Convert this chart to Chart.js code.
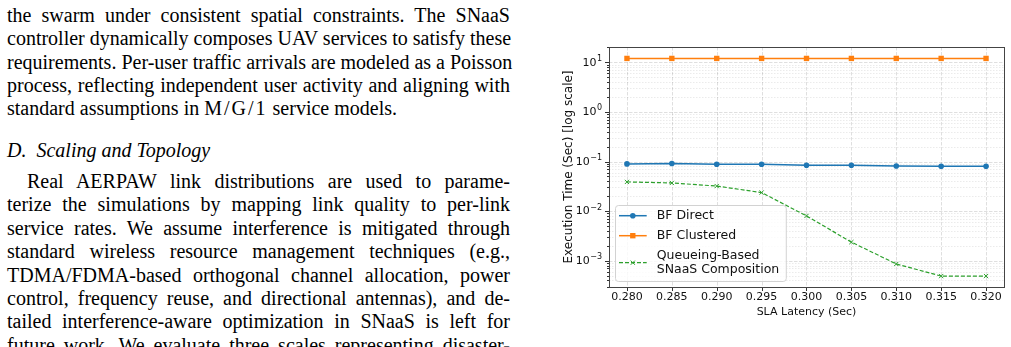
<!DOCTYPE html>
<html><head><meta charset="utf-8">
<script src="https://cdn.jsdelivr.net/npm/chart.js@4.4.1/dist/chart.umd.min.js"></script>
<style>
html,body{margin:0;padding:0;background:#fff;}
body{width:1011px;height:347px;position:relative;overflow:hidden;}
#text{position:absolute;left:7px;top:0;width:503px;height:347px;font-family:'Liberation Serif','Times New Roman',serif;font-size:20px;color:#000;}
.ln{position:absolute;left:0;width:503px;height:23.3px;line-height:23.3px;white-space:nowrap;text-align:justify;text-align-last:justify;}
.ln.last{text-align-last:left;}
.ln.ind{left:20px;width:483px;}
.it{font-style:italic;}
.m{letter-spacing:2px;}
#chartbox{position:absolute;left:530px;top:0;width:481px;height:347px;}
</style>
</head><body>
<div id="text">
  <div class="ln" style="top:4px">the swarm under consistent spatial constraints. The SNaaS</div>
  <div class="ln" style="top:27.3px">controller dynamically composes UAV services to satisfy these</div>
  <div class="ln" style="top:50.6px">requirements. Per-user traffic arrivals are modeled as a Poisson</div>
  <div class="ln" style="top:73.9px">process, reflecting independent user activity and aligning with</div>
  <div class="ln last" style="top:97.2px">standard assumptions in <span class="m">M/G/1</span> service models.</div>
  <div class="ln last it" style="top:139px">D.&nbsp; Scaling and Topology</div>
  <div class="ln ind" style="top:170px">Real AERPAW link distributions are used to parame-</div>
  <div class="ln" style="top:193.4px">terize the simulations by mapping link quality to per-link</div>
  <div class="ln" style="top:216.8px">service rates. We assume interference is mitigated through</div>
  <div class="ln" style="top:240.2px">standard wireless resource management techniques (e.g.,</div>
  <div class="ln" style="top:263.6px">TDMA/FDMA-based orthogonal channel allocation, power</div>
  <div class="ln" style="top:287px">control, frequency reuse, and directional antennas), and de-</div>
  <div class="ln" style="top:310.4px">tailed interference-aware optimization in SNaaS is left for</div>
  <div class="ln" style="top:333.8px">future work. We evaluate three scales representing disaster-</div>
</div>
<div id="chartbox"><canvas id="c" width="481" height="347"></canvas></div>
<script>
// ---- data ----
const slaLatency   = [0.280, 0.285, 0.290, 0.295, 0.300, 0.305, 0.310, 0.315, 0.320];
const xTickLabels  = ['0.280','0.285','0.290','0.295','0.300','0.305','0.310','0.315','0.320'];
const bfDirect     = [0.0895, 0.0912, 0.0882, 0.0882, 0.0842, 0.0842, 0.0815, 0.0804, 0.0804];
const bfClustered  = [12.0, 12.0, 12.0, 12.0, 12.0, 12.0, 12.0, 12.0, 12.0];
const queueingSNaaS= [0.0388, 0.0370, 0.0320, 0.0237, 0.0080, 0.00237, 0.00086, 0.00049, 0.00049];
const seriesNames  = ['BF Direct', 'BF Clustered', 'Queueing-Based\nSNaaS Composition'];
const yTickValues  = [1e-3, 1e-2, 1e-1, 1, 10];
const yTickBase    = ['10', '10', '10', '10', '10'];
const yTickExp     = ['\u22123', '\u22122', '\u22121', '0', '1'];
const yMin = 2.95e-4, yMax = 20.4;
const xMin = 0.278, xMax = 0.322;

const FONT = "'DejaVu Sans', 'Liberation Sans', sans-serif";
const pts = arr => arr.map((v, i) => ({x: slaLatency[i], y: v}));
const isMajorY = v => yTickValues.some(t => Math.abs(t - v) / t < 1e-9);

const framePlugin = {
  id: 'frame',
  beforeDatasetsDraw(chart) {
    const {ctx, chartArea: a, scales: {x, y}} = chart;
    ctx.save();
    ctx.lineWidth = 0.8;
    y.ticks.forEach(t => {
      const major = isMajorY(t.value);
      const py = Math.round(y.getPixelForValue(t.value)) + 0.5;
      ctx.strokeStyle = major ? 'rgba(0,0,0,0.16)' : 'rgba(0,0,0,0.10)';
      ctx.setLineDash(major ? [3.5, 1.5] : [1.5, 1.5]);
      ctx.beginPath(); ctx.moveTo(a.left, py); ctx.lineTo(a.right, py); ctx.stroke();
    });
    x.ticks.forEach(t => {
      const px = Math.round(x.getPixelForValue(t.value)) + 0.5;
      ctx.strokeStyle = 'rgba(0,0,0,0.16)';
      ctx.setLineDash([3.5, 1.5]);
      ctx.beginPath(); ctx.moveTo(px, a.top); ctx.lineTo(px, a.bottom); ctx.stroke();
    });
    ctx.restore();
  },
  afterDatasetsDraw(chart) {
    const {ctx, chartArea: a, scales: {x, y}} = chart;
    ctx.save();
    ctx.setLineDash([]);
    ctx.strokeStyle = '#333';
    ctx.lineWidth = 1;
    // tick marks
    x.ticks.forEach(t => {
      const px = Math.round(x.getPixelForValue(t.value)) + 0.5;
      ctx.beginPath(); ctx.moveTo(px, a.bottom); ctx.lineTo(px, a.bottom + 4); ctx.stroke();
    });
    y.ticks.forEach(t => {
      const major = isMajorY(t.value);
      const py = Math.round(y.getPixelForValue(t.value)) + 0.5;
      ctx.beginPath(); ctx.moveTo(a.left, py); ctx.lineTo(a.left - (major ? 4 : 2), py); ctx.stroke();
    });
    // y tick labels with superscript exponents
    ctx.fillStyle = '#111';
    ctx.textAlign = 'right';
    yTickValues.forEach((v, k) => {
      const py = y.getPixelForValue(v);
      const right = a.left - 7;
      ctx.font = '8px ' + FONT;
      const ew = ctx.measureText(yTickExp[k]).width;
      ctx.textBaseline = 'alphabetic';
      ctx.fillText(yTickExp[k], right, py - 1.5);
      ctx.font = '11px ' + FONT;
      ctx.textBaseline = 'middle';
      ctx.fillText(yTickBase[k], right - ew - 0.5, py + 0.5);
    });
    // frame
    ctx.strokeStyle = '#444';
    ctx.strokeRect(Math.round(a.left) + 0.5, Math.round(a.top) + 0.5,
                   Math.round(a.right - a.left), Math.round(a.bottom - a.top));
    // legend
    const font = "12.5px " + FONT;
    ctx.font = font;
    const lineH = 14, gap = 6, padTop = 3.7, padBot = 4.3;
    const rows = chart.data.datasets.map(ds => ds.label.split('\n'));
    let h = padTop + padBot;
    rows.forEach((r, i) => { h += r.length * lineH + (i ? gap : 0); });
    let maxW = 0;
    rows.forEach(r => r.forEach(s => { maxW = Math.max(maxW, ctx.measureText(s).width); }));
    const x0 = a.left + 6, y1 = a.bottom - 6, y0 = y1 - h;
    const w = 41.7 + maxW + 6.5;
    ctx.beginPath();
    ctx.roundRect(x0 + 0.5, y0 + 0.5, w, h, 3);
    ctx.fillStyle = 'rgba(255,255,255,0.8)';
    ctx.fill();
    ctx.strokeStyle = '#d2d2d2';
    ctx.lineWidth = 1;
    ctx.stroke();
    let cy = y0 + padTop;
    chart.data.datasets.forEach((ds, i) => {
      if (i) cy += gap;
      const r = rows[i];
      const mid = cy + r.length * lineH / 2;
      ctx.save();
      ctx.strokeStyle = ds.borderColor;
      ctx.lineWidth = ds.borderWidth;
      ctx.setLineDash(ds.borderDash || []);
      ctx.beginPath(); ctx.moveTo(x0 + 4, mid); ctx.lineTo(x0 + 31.7, mid); ctx.stroke();
      ctx.setLineDash([]);
      ctx.fillStyle = ds.pointBackgroundColor;
      ctx.strokeStyle = ds.pointBorderColor;
      ctx.lineWidth = ds.pointBorderWidth;
      Chart.helpers.drawPoint(ctx, {pointStyle: ds.pointStyle, rotation: 0,
        radius: ds.pointRadius, borderWidth: ds.pointBorderWidth}, x0 + 17.8, mid);
      ctx.restore();
      ctx.fillStyle = '#111';
      ctx.textBaseline = 'middle';
      ctx.textAlign = 'left';
      ctx.font = font;
      r.forEach((s, k) => ctx.fillText(s, x0 + 41.7, cy + lineH * (k + 0.5)));
      cy += r.length * lineH;
    });
    ctx.restore();
  }
};

new Chart(document.getElementById('c'), {
  type: 'line',
  data: {
    datasets: [
      {label: seriesNames[0], data: pts(bfDirect), borderColor: '#1f77b4', borderWidth: 1.5,
       pointStyle: 'circle', pointRadius: 2.8, pointBackgroundColor: '#1f77b4',
       pointBorderColor: '#1f77b4', pointBorderWidth: 0, tension: 0},
      {label: seriesNames[1], data: pts(bfClustered), borderColor: '#ff7f0e', borderWidth: 1.5,
       pointStyle: 'rect', pointRadius: 3.8, pointBackgroundColor: '#ff7f0e',
       pointBorderColor: '#ff7f0e', pointBorderWidth: 0, tension: 0},
      {label: seriesNames[2], data: pts(queueingSNaaS), borderColor: '#2ca02c', borderWidth: 1.2,
       borderDash: [4, 2], pointStyle: 'crossRot', pointRadius: 3, pointBackgroundColor: '#2ca02c',
       pointBorderColor: '#2ca02c', pointBorderWidth: 1, tension: 0}
    ]
  },
  options: {
    responsive: false,
    animation: false,
    events: [],
    layout: {padding: {left: 0, right: 7, top: 47, bottom: 0}},
    plugins: {legend: {display: false}, tooltip: {enabled: false}},
    scales: {
      x: {
        type: 'linear', min: xMin, max: xMax,
        afterBuildTicks: s => { s.ticks = slaLatency.map(v => ({value: v})); },
        afterFit: s => { s.height = 60; },
        grid: {display: false, drawTicks: false},
        border: {display: false},
        ticks: {autoSkip: false, maxRotation: 0, padding: 4, color: '#111',
                font: {family: FONT, size: 11}, callback: (v, i) => xTickLabels[i]},
        title: {display: true, text: 'SLA Latency (Sec)', color: '#111',
                font: {family: FONT, size: 11}, padding: {top: 0, bottom: 28.7}}
      },
      y: {
        type: 'logarithmic', min: yMin, max: yMax,
        afterBuildTicks: s => {
          const t = [];
          for (let e = -4; e <= 1; e++) for (let m = 1; m <= 9; m++) {
            const v = m * Math.pow(10, e);
            if (v >= yMin && v <= yMax) t.push({value: v});
          }
          s.ticks = t;
        },
        afterFit: s => { s.width = 79; },
        grid: {display: false, drawTicks: false},
        border: {display: false},
        ticks: {autoSkip: false, padding: 7, color: '#111', font: {family: FONT, size: 11},
                callback: () => ''},
        title: {display: true, text: 'Execution Time (Sec) [log scale]', color: '#111',
                font: {family: FONT, size: 12}, padding: {top: 32.1, bottom: 0}}
      }
    }
  },
  plugins: [framePlugin]
});
</script>
</body></html>
